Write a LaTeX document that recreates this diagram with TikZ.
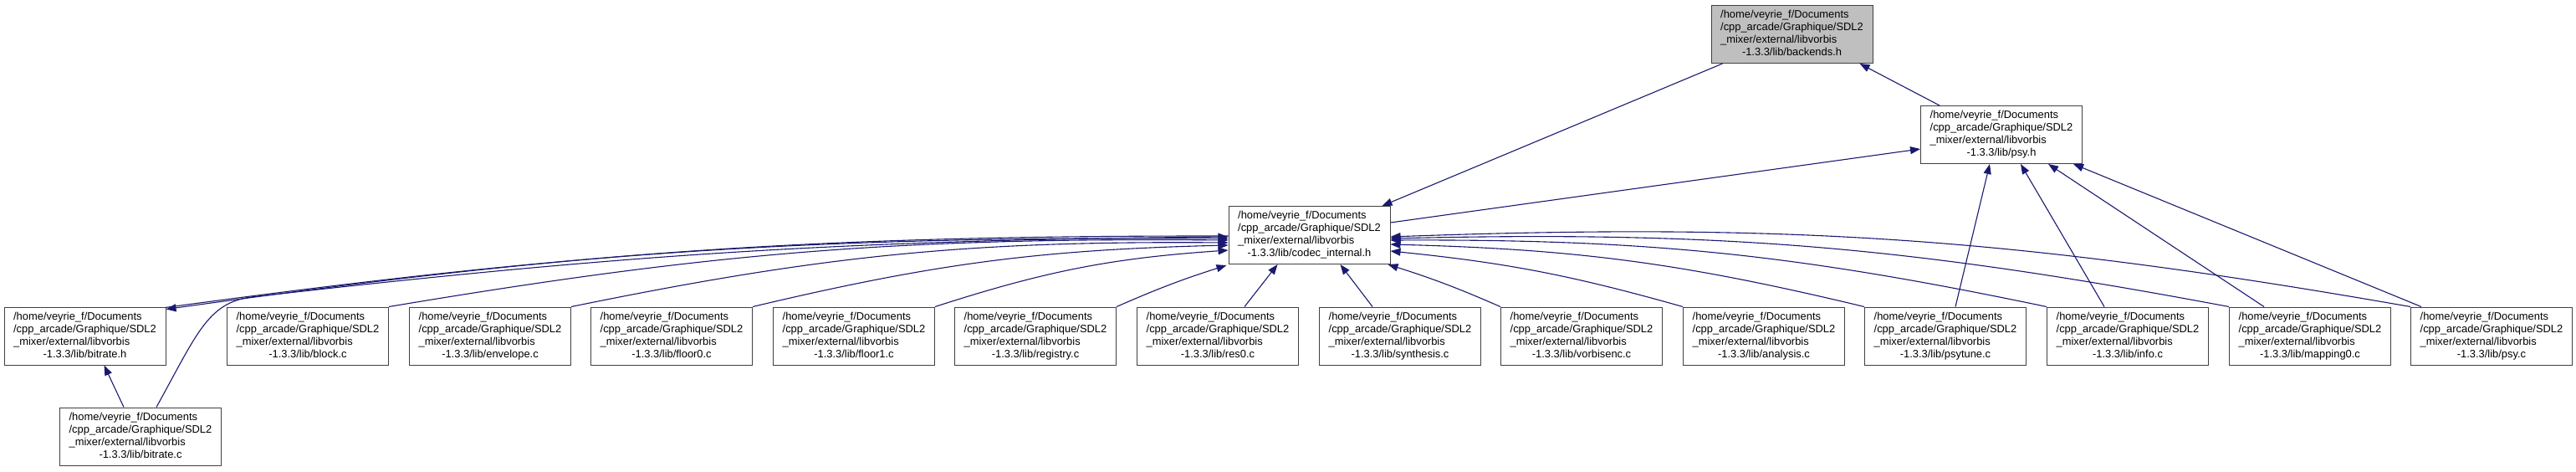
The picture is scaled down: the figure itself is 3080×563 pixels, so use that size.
\documentclass[tikz,border=0pt]{standalone}
\usepackage{fontspec}
\setmainfont{Liberation Sans}
\usetikzlibrary{arrows.meta,calc}
\definecolor{edgeblue}{HTML}{191970}
\definecolor{boxline}{HTML}{404040}
\definecolor{hlfill}{HTML}{BFBFBF}
\newcommand\dxlabel[1]{\begin{tabular}{@{}l@{}}/home/veyrie\_f/Documents\\/cpp\_arcade/Graphique/SDL2\\\_mixer/external/libvorbis\\\multicolumn{1}{@{}c@{}}{-1.3.3/lib/#1}\end{tabular}}
\begin{document}
\begin{tikzpicture}[x=0.5pt,y=-0.5pt,
  box/.style={draw=boxline, line width=0.5pt, fill=white, minimum width=96.5pt, minimum height=34.5pt, inner sep=0pt, font=\fontsize{6.45}{7.5}\selectfont},
  hl/.style={box, fill=hlfill},
  edge/.style={draw=edgeblue, line width=0.55pt, -{Triangle[length=6pt,width=4.5pt]}}]
\useasboundingbox (0,0) rectangle (3080,563);
% nodes
\node[hl]  (backends) at (2142.5,41)  {\dxlabel{backends.h}};
\node[box] (psyh)     at (2393,161)   {\dxlabel{psy.h}};
\node[box] (codec)    at (1565.5,281) {\dxlabel{codec\_internal.h}};
\node[box] (bitrateh) at (101.5,401.5) {\dxlabel{bitrate.h}};
\node[box] (bitratec) at (168,521.5)  {\dxlabel{bitrate.c}};
\node[box] (block)    at (368,401.5)  {\dxlabel{block.c}};
\node[box] (envelope) at (586,401.5)  {\dxlabel{envelope.c}};
\node[box] (floorA)   at (803,401.5)  {\dxlabel{floor0.c}};
\node[box] (floorB)   at (1021,401.5) {\dxlabel{floor1.c}};
\node[box] (registry) at (1238,401.5) {\dxlabel{registry.c}};
\node[box] (res)      at (1456,401.5) {\dxlabel{res0.c}};
\node[box] (synth)    at (1674,401.5) {\dxlabel{synthesis.c}};
\node[box] (vorbisenc) at (1891,401.5) {\dxlabel{vorbisenc.c}};
\node[box] (analysis) at (2109,401.5) {\dxlabel{analysis.c}};
\node[box] (psytune)  at (2326,401.5) {\dxlabel{psytune.c}};
\node[box] (info)     at (2544,401.5) {\dxlabel{info.c}};
\node[box] (mapping)  at (2762,401.5) {\dxlabel{mapping0.c}};
\node[box] (psyc)     at (2979,401.5) {\dxlabel{psy.c}};
% edges top
\draw[edge] ($(psyh.north west)+(23,0)$) -- ($(backends.south east)+(-16,0)$);
\draw[edge] ($(backends.south west)+(14,0)$) -- ($(codec.north east)+(-10,0)$);
\draw[edge] ($(codec.east)+(0,-15)$) -- ($(psyh.west)+(0,17)$);
% bitrate
\draw[edge] ($(bitrateh.north east)+(-1,1)$) to[bend left=4] ($(codec.west)+(0,4)$);
\draw[edge] ($(codec.west)+(0,1)$) to[bend right=4] ($(bitrateh.north east)+(0,3)$);
\draw[edge] ($(bitratec.north)+(19,0)$) .. controls (235,400) and (248,362) .. (300,355) to[bend left=3] ($(codec.west)+(0,2)$);
\draw[edge] ($(bitratec.north)+(-20,0)$) -- ($(bitrateh.south)+(23,0)$);
% left side
\draw[edge] (block.north east) to[bend left=5] ($(codec.west)+(0,6)$);
\draw[edge] (envelope.north east) to[bend left=6] ($(codec.west)+(0,9)$);
\draw[edge] (floorA.north east) to[bend left=6] ($(codec.west)+(0,12)$);
\draw[edge] (floorB.north east) to[bend left=7] ($(codec.west)+(0,18)$);
\draw[edge] (registry.north east) to[bend left=3] ($(codec.south west)+(-2,1)$);
\draw[edge] ($(res.north)+(32,0)$) -- ($(codec.south west)+(59,0)$);
\draw[edge] ($(synth.north)+(-33,0)$) -- ($(codec.south west)+(134,0)$);
\draw[edge] (vorbisenc.north west) to[bend right=3] ($(codec.south east)+(-3,0)$);
% right side
\draw[edge] (analysis.north west) to[bend right=5] ($(codec.east)+(0,19)$);
\draw[edge] (psytune.north west) to[bend right=6] ($(codec.east)+(0,11)$);
\draw[edge] (info.north west) to[bend right=6] ($(codec.east)+(0,6)$);
\draw[edge] (mapping.north west) to[bend right=6] ($(codec.east)+(0,4)$);
\draw[edge] (psyc.north west) to[bend right=6] ($(codec.east)+(0,2)$);
% to psy.h
\draw[edge] ($(psytune.north)+(12,0)$) -- ($(psyh.south west)+(83,0)$);
\draw[edge] ($(info.north)+(-28,0)$) -- ($(psyh.south west)+(120,0)$);
\draw[edge] ($(mapping.north)+(-55,0)$) -- ($(psyh.south west)+(153,0)$);
\draw[edge] ($(psyc.north)+(-84,0)$) -- ($(psyh.south west)+(183,0)$);
\end{tikzpicture}
\end{document}
